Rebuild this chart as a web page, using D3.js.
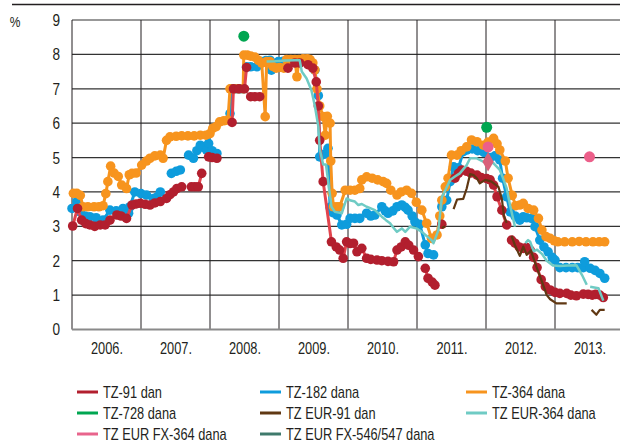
<!DOCTYPE html>
<html>
<head>
<meta charset="utf-8">
<script src="https://cdn.jsdelivr.net/npm/d3@7"></script>
<style>
  body { margin: 0; background: #fff; }
  svg { display: block; }
  text { font-family: "Liberation Sans Narrow", "Liberation Sans", Arial, sans-serif; fill: #231f20; }
</style>
</head>
<body>
<div class="chart"></div>
<script>
// x values are decimal years, null = gap in the series
var tz91 = [
  [2006.01, 3.01], [2006.08, 3.52], [2006.14, 3.18], [2006.20, 3.08], [2006.26, 3.04], [2006.33, 3.0],
  [2006.41, 3.04], [2006.48, 3.04], [2006.55, 3.18], [2006.65, 3.33], [2006.71, 3.3], [2006.79, 3.23],
  [2006.87, 3.62], [2006.93, 3.65], [2006.99, 3.67], [2007.06, 3.64], [2007.13, 3.62], [2007.20, 3.68],
  [2007.28, 3.72], [2007.37, 3.81], [2007.42, 3.92], [2007.47, 4.0], [2007.52, 4.1], [2007.59, 4.15],
  null,
  [2007.73, 4.15], [2007.78, 4.15], [2007.83, 4.15], [2007.88, 4.54],
  null,
  [2007.98, 5.02], [2008.03, 5.0], [2008.10, 4.98],
  null,
  [2008.32, 6.02], [2008.34, 7.0], [2008.42, 7.0], [2008.50, 7.0], [2008.53, 7.62],
  null,
  [2008.59, 6.77], [2008.65, 6.77], [2008.72, 6.77],
  null,
  [2009.13, 7.6], [2009.23, 7.75], [2009.30, 7.75], [2009.42, 7.7], [2009.49, 7.6], [2009.54, 7.2],
  [2009.57, 6.5], [2009.59, 5.5], [2009.64, 4.3], [2009.76, 2.55], [2009.83, 2.4], [2009.88, 2.31],
  [2009.93, 2.07], [2009.98, 2.55], [2010.03, 2.5], [2010.08, 2.51], [2010.13, 2.26], [2010.20, 2.36],
  [2010.27, 2.07], [2010.33, 2.04], [2010.42, 2.02], [2010.49, 2.0], [2010.58, 1.98], [2010.66, 1.97],
  [2010.71, 2.31], [2010.77, 2.4], [2010.83, 2.55], [2010.88, 2.45], [2010.95, 2.31], [2011.02, 2.12],
  null,
  [2011.12, 1.78], [2011.16, 1.49], [2011.22, 1.38], [2011.26, 1.29],
  null,
  [2011.36, 3.06],
  null,
  [2011.55, 4.4], [2011.60, 4.54], [2011.65, 4.64], [2011.72, 4.6], [2011.78, 4.55], [2011.87, 4.49],
  [2011.93, 4.42], [2012.01, 4.39], [2012.06, 4.35], [2012.11, 4.2], [2012.16, 3.86], [2012.23, 3.47],
  [2012.30, 3.04],
  null,
  [2012.37, 2.6], [2012.42, 2.51], [2012.48, 2.4], [2012.54, 2.36], [2012.59, 2.38], [2012.64, 2.31],
  [2012.69, 2.1], [2012.74, 1.8], [2012.80, 1.45], [2012.86, 1.25], [2012.93, 1.15], [2013.00, 1.08],
  [2013.07, 1.05], [2013.17, 1.05], [2013.23, 1.0], [2013.31, 0.98],
  null,
  [2013.41, 1.03], [2013.48, 1.02], [2013.54, 1.0], [2013.59, 1.02], [2013.65, 1.0], [2013.70, 0.93]
];

var tz182 = [
  [2006.00, 3.52], [2006.07, 3.72], [2006.12, 3.42], [2006.19, 3.3], [2006.26, 3.28], [2006.35, 3.25],
  [2006.45, 3.18], [2006.55, 3.47], [2006.64, 3.45], [2006.74, 3.52], [2006.82, 3.38], [2006.84, 3.57],
  [2006.91, 4.0], [2007.00, 3.95], [2007.08, 3.91], [2007.18, 3.81], [2007.23, 3.85], [2007.28, 4.0],
  null,
  [2007.44, 4.54], [2007.51, 4.6], [2007.57, 4.64],
  null,
  [2007.69, 5.07], [2007.76, 4.98], [2007.81, 5.2], [2007.86, 5.36], [2007.90, 5.3], [2007.95, 5.22],
  [2007.98, 5.41], [2008.03, 5.2], [2008.10, 5.12],
  null,
  [2008.29, 6.28], [2008.31, 7.0], [2008.38, 7.0], [2008.43, 7.0], [2008.48, 7.0], [2008.53, 7.64],
  [2008.59, 7.64], [2008.68, 7.64], [2008.75, 7.79], [2008.81, 7.82], [2008.87, 7.83], [2008.89, 7.54],
  [2008.94, 7.7], [2008.99, 7.79], [2009.06, 7.8], [2009.16, 7.8], [2009.26, 7.82], [2009.36, 7.8],
  [2009.45, 7.75], [2009.52, 7.54], [2009.57, 6.8], [2009.59, 5.02], [2009.66, 5.1], [2009.71, 5.27],
  [2009.74, 3.55], [2009.78, 3.4], [2009.84, 3.33], [2009.91, 3.04], [2009.98, 3.06], [2010.03, 3.23],
  [2010.10, 3.23], [2010.17, 3.23], [2010.27, 3.38], [2010.33, 3.3], [2010.39, 3.33], [2010.49, 3.57],
  [2010.54, 3.45], [2010.58, 3.38], [2010.65, 3.45], [2010.71, 3.57], [2010.78, 3.62], [2010.83, 3.55],
  [2010.87, 3.47], [2010.93, 3.3], [2010.97, 3.13], [2011.04, 3.06], [2011.12, 2.46], [2011.16, 2.21],
  [2011.24, 2.17],
  null,
  [2011.36, 3.57], [2011.43, 3.76], [2011.48, 4.3], [2011.53, 4.73], [2011.60, 4.7], [2011.67, 5.17],
  [2011.72, 5.22], [2011.80, 5.25], [2011.88, 5.2], [2011.97, 5.15], [2012.06, 5.0], [2012.13, 5.05],
  [2012.20, 4.93], [2012.24, 4.4], [2012.30, 3.86], [2012.35, 3.42], [2012.42, 3.3], [2012.49, 3.18],
  [2012.54, 3.28], [2012.59, 3.25], [2012.66, 3.23], [2012.71, 2.99], [2012.78, 2.6], [2012.84, 2.4],
  [2012.90, 2.26], [2012.96, 2.1], [2013.00, 2.02], [2013.07, 1.8], [2013.16, 1.8], [2013.25, 1.8],
  [2013.33, 1.8], [2013.41, 1.8], [2013.43, 1.97], [2013.51, 1.78], [2013.58, 1.72], [2013.65, 1.63],
  [2013.72, 1.49]
];

var tz364 = [
  [2006.02, 3.96], [2006.07, 3.96], [2006.12, 3.9], [2006.16, 3.57], [2006.23, 3.57], [2006.32, 3.57],
  [2006.39, 3.57], [2006.45, 3.6], [2006.49, 3.95], [2006.52, 4.3], [2006.56, 4.75], [2006.61, 4.55],
  [2006.67, 4.45], [2006.72, 4.2], [2006.79, 4.1], [2006.83, 4.5], [2006.87, 4.54], [2006.93, 4.55],
  [2007.01, 4.78], [2007.08, 4.9], [2007.13, 4.98], [2007.20, 5.05], [2007.28, 5.07], [2007.32, 4.98],
  [2007.37, 5.5], [2007.42, 5.6], [2007.51, 5.62], [2007.59, 5.63], [2007.68, 5.63], [2007.77, 5.63],
  [2007.86, 5.65], [2007.94, 5.65], [2008.00, 5.7], [2008.04, 5.85], [2008.09, 5.9], [2008.14, 6.04],
  [2008.20, 6.07], [2008.26, 6.09], [2008.29, 7.0], [2008.35, 7.0], [2008.41, 7.0], [2008.48, 7.0],
  [2008.49, 7.98], [2008.54, 7.98], [2008.59, 7.95], [2008.65, 7.92], [2008.70, 7.83], [2008.75, 7.75],
  [2008.80, 6.19], [2008.82, 7.79], [2008.87, 7.79], [2008.91, 7.65], [2008.96, 7.6], [2009.01, 7.62],
  [2009.07, 7.6], [2009.11, 7.85], [2009.17, 7.85], [2009.23, 7.85], [2009.26, 7.35], [2009.29, 7.85],
  [2009.35, 7.87], [2009.41, 7.87], [2009.45, 7.85], [2009.49, 7.75], [2009.52, 7.55], [2009.55, 7.0],
  [2009.59, 6.5], [2009.64, 6.19], [2009.67, 5.65], [2009.70, 6.2], [2009.74, 6.0], [2009.75, 4.9],
  [2009.77, 3.96], [2009.79, 3.57], [2009.84, 3.57], [2009.88, 3.57], [2009.96, 4.05], [2010.03, 4.05],
  [2010.10, 4.05], [2010.17, 4.1], [2010.20, 4.35], [2010.27, 4.44], [2010.35, 4.4], [2010.43, 4.35],
  [2010.51, 4.3], [2010.56, 4.25], [2010.62, 4.05], [2010.71, 3.91], [2010.77, 4.0], [2010.85, 4.05],
  [2010.92, 3.96], [2010.99, 3.7], [2011.07, 3.47], [2011.14, 3.09], [2011.21, 2.65], [2011.29, 2.75],
  [2011.33, 3.3], [2011.36, 3.76], [2011.41, 4.15], [2011.45, 4.4], [2011.50, 5.07], [2011.58, 5.07],
  [2011.64, 5.2], [2011.72, 5.31], [2011.79, 5.51], [2011.87, 5.46], [2011.96, 5.36], [2012.03, 5.45],
  [2012.11, 5.56], [2012.16, 5.4], [2012.20, 5.22], [2012.28, 4.9], [2012.32, 4.4], [2012.38, 3.9],
  [2012.43, 3.6], [2012.49, 3.62], [2012.54, 3.67], [2012.61, 3.52], [2012.69, 3.47], [2012.76, 3.23],
  [2012.81, 2.89], [2012.87, 2.7], [2012.93, 2.65], [2012.99, 2.58], [2013.04, 2.55], [2013.14, 2.55],
  [2013.25, 2.55], [2013.35, 2.56], [2013.45, 2.55], [2013.55, 2.55], [2013.64, 2.55], [2013.72, 2.55]
];

var tz728 = [[2008.49, 8.53], [2012.01, 5.88]];

var tzEur91 = [
  [2011.36, 2.95], [2011.41, 3.0],
  null,
  [2011.53, 3.5], [2011.58, 3.78], [2011.67, 3.8], [2011.72, 4.1], [2011.77, 4.52], [2011.82, 4.49],
  [2011.87, 4.39], [2011.91, 4.25], [2011.99, 4.35], [2012.08, 4.3], [2012.18, 4.15], [2012.23, 3.8],
  [2012.26, 3.3], [2012.30, 3.1],
  null,
  [2012.37, 2.72], [2012.42, 2.45], [2012.49, 2.14], [2012.54, 2.41], [2012.59, 2.17], [2012.65, 2.3],
  [2012.73, 1.83], [2012.81, 1.4], [2012.88, 1.0], [2012.93, 0.88], [2013.02, 0.76], [2013.17, 0.76],
  null,
  [2013.53, 0.57], [2013.60, 0.43], [2013.65, 0.57], [2013.72, 0.57]
];

var tzEur364 = [
  [2008.82, 7.79], [2008.94, 7.8], [2009.09, 7.82], [2009.23, 7.83], [2009.30, 7.83], [2009.33, 7.5],
  [2009.40, 7.3], [2009.47, 6.96], [2009.52, 6.5], [2009.57, 5.9], [2009.59, 5.25], [2009.64, 4.8],
  [2009.68, 4.8], [2009.71, 4.35], [2009.76, 3.57], [2009.81, 3.42], [2009.91, 3.38], [2009.98, 3.81],
  [2010.04, 3.75], [2010.10, 3.72], [2010.15, 3.62], [2010.20, 3.65], [2010.27, 3.57], [2010.33, 3.52],
  [2010.39, 3.47], [2010.49, 3.28], [2010.55, 3.18], [2010.61, 3.09], [2010.65, 2.98], [2010.71, 2.84],
  [2010.78, 2.94], [2010.83, 2.84], [2010.90, 2.99], [2010.99, 2.94], [2011.07, 2.84], [2011.14, 2.72],
  [2011.21, 2.6], [2011.24, 2.51], [2011.31, 2.89], [2011.36, 3.85], [2011.41, 4.05], [2011.48, 4.35],
  [2011.55, 4.45], [2011.62, 4.54], [2011.72, 4.78], [2011.77, 4.98], [2011.86, 4.98], [2011.96, 4.88],
  [2012.01, 4.83], [2012.10, 4.85], [2012.20, 4.64], [2012.24, 4.44], [2012.30, 4.1], [2012.35, 3.6],
  [2012.42, 2.99],
  null,
  [2012.57, 2.51], [2012.61, 2.6], [2012.64, 2.55], [2012.69, 2.28], [2012.74, 2.32], [2012.81, 2.2],
  [2012.88, 2.0], [2012.97, 1.86], [2013.07, 1.85], [2013.19, 1.86], [2013.31, 1.87], [2013.39, 1.59],
  [2013.46, 1.3],
  null,
  [2013.51, 1.24], [2013.63, 1.2], [2013.70, 0.84]
];

var tzEurFx364 = [[2012.03, 5.31], [2013.50, 5.02]];
var tzEurFx364Diamond = [[2012.03, 4.88]];
var tzEurFx546 = [];

var yTicks = [0, 1, 2, 3, 4, 5, 6, 7, 8, 9];
var years = [2006, 2007, 2008, 2009, 2010, 2011, 2012, 2013];
var yearLabels = ["2006.", "2007.", "2008.", "2009.", "2010.", "2011.", "2012.", "2013."];

var legendNames = ["TZ-91 dan", "TZ-182 dana", "TZ-364 dana", "TZ-728 dana", "TZ EUR-91 dan",
  "TZ EUR-364 dana", "TZ EUR FX-364 dana", "TZ EUR FX-546/547 dana"];
var legendColors = ["#b21f2e", "#0e9cdc", "#f7941e", "#00a651", "#603813", "#6fcbc4", "#e8648c", "#3f7a6c"];

var width = 620,
    height = 444,
    narrow = 0.8; // horizontal squeeze to imitate the condensed typeface

var svg = d3.select(".chart").append("svg")
    .attr("width", width)
    .attr("height", height);

var x = d3.scaleLinear().domain([2006, 2013.942]).range([72, 620]);
var y = d3.scaleLinear().domain([0, 9]).range([329.5, 20]);

// top rule
svg.append("line")
    .attr("x1", 12).attr("x2", 620)
    .attr("y1", 4.5).attr("y2", 4.5)
    .attr("stroke", "#231f20").attr("stroke-width", 1.5);

svg.append("text")
    .attr("transform", "translate(15,27) scale(" + narrow + ",1)")
    .attr("text-anchor", "middle")
    .style("font-size", "15px")
    .text("%");

// grid
var grid = svg.append("g");
grid.selectAll(".hg")
    .data(yTicks.filter(function (d) { return d > 0; }))
    .enter().append("line")
    .attr("x1", x(2006)).attr("x2", 620)
    .attr("y1", function (d) { return y(d); })
    .attr("y2", function (d) { return y(d); })
    .attr("stroke", "#333").attr("stroke-width", 1.2);

grid.selectAll(".vg")
    .data(years)
    .enter().append("line")
    .attr("x1", function (d) { return x(d); })
    .attr("x2", function (d) { return x(d); })
    .attr("y1", y(9)).attr("y2", y(0))
    .attr("stroke", "#231f20").attr("stroke-width", 1);

svg.append("line")
    .attr("x1", x(2006)).attr("x2", 620)
    .attr("y1", y(0)).attr("y2", y(0))
    .attr("stroke", "#8a8a8a").attr("stroke-width", 2);

// y axis labels
var yAxis = d3.axisLeft(y).tickValues(yTicks).tickSize(0).tickPadding(12).tickFormat(d3.format("d"));
var ya = svg.append("g").attr("transform", "translate(" + x(2006) + ",0)").call(yAxis);
ya.select(".domain").remove();
ya.selectAll("text")
    .style("font-size", "17px").style("font-family", null).attr("fill", "#231f20")
    .attr("x", -12 / narrow)
    .attr("transform", "scale(" + narrow + ",1)");

// x labels centred in each year
var xAxis = d3.axisBottom(x)
    .tickValues(years.map(function (d) { return d + 0.5; }))
    .tickSize(0).tickPadding(13)
    .tickFormat(function (d, i) { return yearLabels[i]; });
var xa = svg.append("g").attr("transform", "translate(0," + y(0) + ")").call(xAxis);
xa.select(".domain").remove();
xa.selectAll("text")
    .style("font-size", "16px").style("font-family", null).attr("fill", "#231f20")
    .attr("transform", "scale(" + narrow + ",1)");

var line = d3.line()
    .defined(function (d) { return d !== null; })
    .x(function (d) { return x(d[0]); })
    .y(function (d) { return y(d[1]); });

function drawSeries(data, lineColor, dotColor, lw, r) {
    var g = svg.append("g");
    g.append("path")
        .datum(data)
        .attr("d", line)
        .attr("fill", "none")
        .attr("stroke", lineColor)
        .attr("stroke-width", lw)
        .attr("stroke-linejoin", "round");
    if (r > 0) {
        g.selectAll("circle")
            .data(data.filter(function (d) { return d !== null; }))
            .enter().append("circle")
            .attr("cx", function (d) { return x(d[0]); })
            .attr("cy", function (d) { return y(d[1]); })
            .attr("r", r)
            .attr("fill", dotColor);
    }
}

drawSeries(tz182, "#0e9cdc", "#0e9cdc", 3, 4.8);
drawSeries(tz364, "#f7941e", "#f7941e", 3, 4.8);
drawSeries(tz91, "#e2444d", "#b21f2e", 3, 4.8);
drawSeries(tzEur364, "#6fcbc4", null, 2.5, 0);
drawSeries(tzEur91, "#603813", null, 2.2, 0);
drawSeries(tzEurFx546, "#3f7a6c", null, 2.2, 0);
drawSeries(tz728, "none", "#00a651", 0, 5.5);
drawSeries(tzEurFx364, "none", "#ec5f8a", 0, 5.5);

svg.append("g").selectAll("path")
    .data(tzEurFx364Diamond)
    .enter().append("path")
    .attr("d", d3.symbol().type(d3.symbolDiamond).size(110))
    .attr("transform", function (d) { return "translate(" + x(d[0]) + "," + y(d[1]) + ")"; })
    .attr("fill", "#d9607a");

// legend
var legendX = [77, 260, 466],
    legendY = [392, 413, 434];

var lg = svg.append("g").selectAll("g")
    .data(legendNames)
    .enter().append("g")
    .attr("transform", function (d, i) {
        return "translate(" + legendX[i % 3] + "," + legendY[Math.floor(i / 3)] + ")";
    });

lg.append("line")
    .attr("x1", 0).attr("x2", 21)
    .attr("stroke", function (d, i) { return legendColors[i]; })
    .attr("stroke-width", 3);

lg.append("text")
    .attr("x", 26 / narrow).attr("dy", "0.35em")
    .attr("transform", "scale(" + narrow + ",1)")
    .style("font-size", "16px")
    .text(function (d) { return d; });
</script>
</body>
</html>
